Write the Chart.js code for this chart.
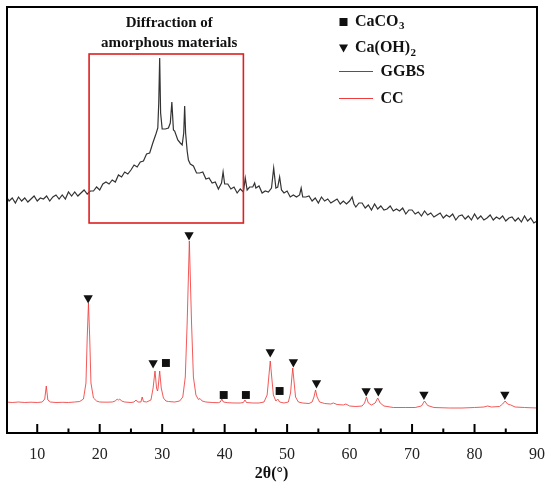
<!DOCTYPE html>
<html>
<head>
<meta charset="utf-8">
<script src="https://cdn.jsdelivr.net/npm/chart.js@4.4.1/dist/chart.umd.min.js"></script>
<style>
  html, body { margin: 0; padding: 0; background: #fff; }
  canvas { display: block; }
</style>
</head>
<body>
<canvas id="xrd-chart" width="550" height="486"></canvas>
<script>
// 2θ (deg) and intensity (a.u.)
const ggbs = [
  [5.0,237],[5.5,232],[6.0,235],[6.5,230],[7.0,236],[7.5,232],[8.0,235],[8.5,231],[9.0,234],[9.5,237],
  [10.0,232],[10.5,235],[11.0,234],[11.5,237],[12.0,232],[12.5,236],[13.0,238],[13.5,234],[14.0,238],[14.5,234],
  [15.0,241],[15.5,237],[16.0,241],[16.5,237],[17.0,240],[17.5,243],[18.0,239],[18.5,242],[19.0,242],[19.5,246],
  [20.0,243],[20.5,249],[21.0,251],[21.5,249],[22.0,253],[22.5,251],[23.0,258],[23.5,256],[24.0,261],[24.5,259],
  [25.0,263],[25.5,268],[26.0,266],[26.5,271],[27.0,272],[27.5,279],[28.0,280],[28.5,290],[29.0,299],[29.3,305],
  [29.45,330],[29.6,375],[29.75,320],[30.0,304],[30.5,304],[31.0,305],[31.3,310],[31.55,331],[31.8,303],[32.0,302],
  [32.5,293],[32.9,290],[33.2,288],[33.45,300],[33.6,327],[33.75,300],[34.0,282],[34.2,273],[34.5,269],[35.0,267],
  [35.5,260],[36.0,260],[36.5,261],[37.0,254],[37.5,255],[38.0,250],[38.5,251],[39.0,244],[39.5,250],[39.75,261],
  [40.0,249],[40.5,249],[41.0,244],[41.5,246],[42.0,240],[42.5,244],[43.0,241],[43.3,255],[43.6,243],[44.0,246],
  [44.5,246],[44.8,250],[45.0,245],[45.5,247],[46.0,240],[46.5,242],[47.0,241],[47.5,245],[47.85,265],[48.2,245],
  [48.5,246],[48.8,256],[49.1,243],[49.5,240],[50.0,242],[50.5,236],[51.0,238],[51.5,236],[52.0,238],[52.25,245],
  [52.5,236],[53.0,236],[53.5,237],[54.0,232],[54.5,235],[55.0,230],[55.5,236],[56.0,232],[56.5,234],[57.0,230],
  [57.5,232],[58.0,234],[58.5,229],[59.0,232],[59.5,229],[60.0,232],[60.4,236],[60.7,229],[61.0,226],[61.5,230],
  [62.0,230],[62.5,225],[63.0,228],[63.5,223],[64.0,229],[64.5,224],[65.0,227],[65.5,223],[66.0,224],[66.5,227],
  [67.0,222],[67.5,224],[68.0,222],[68.5,225],[69.0,219],[69.5,223],[70.0,223],[70.5,219],[71.0,221],[71.5,217],
  [72.0,222],[72.5,218],[73.0,220],[73.5,216],[74.0,218],[74.5,220],[75.0,215],[75.5,218],[76.0,216],[76.5,219],
  [77.0,213],[77.5,217],[78.0,218],[78.5,214],[79.0,217],[79.5,213],[80.0,219],[80.5,214],[81.0,217],[81.5,213],
  [82.0,215],[82.5,218],[83.0,213],[83.5,216],[84.0,214],[84.5,217],[85.0,212],[85.5,215],[86.0,216],[86.5,212],
  [87.0,215],[87.5,211],[88.0,217],[88.5,212],[89.0,215],[89.5,210],[90.0,212]
];

const cc = [
  [5,31],[6,30.5],[7,31],[8,30.5],[9,30.8],[10,30.5],[10.8,31],[11.2,34],[11.45,47],[11.7,33],
  [12.1,31],[13,30.5],[14,30.7],[15,30.5],[16,31],[16.8,31.5],[17.4,34],[17.8,50],[18.0,95],[18.2,130],
  [18.4,95],[18.6,50],[19.0,35],[19.5,32],[20,31],[21,30.8],[22,31],[22.5,32],[22.8,34],[23.0,33],
  [23.2,34],[23.5,32],[24,31],[25,30.5],[25.5,31],[25.8,33],[26.1,31],[26.6,31],[26.8,36],[27.0,31.5],
  [27.5,31],[28.2,33],[28.55,45],[28.85,62],[29.1,45],[29.25,42],[29.35,45],[29.6,62],[29.85,45],[30.2,35],
  [30.6,32],[31,31.5],[32,31],[32.8,32],[33.3,36],[33.7,56],[34.0,110],[34.35,192],[34.7,110],[35.0,56],
  [35.4,38],[35.8,33.5],[36.05,34.5],[36.4,32],[37,31],[38,30.5],[39,30.3],[39.3,31],[39.55,34],[39.8,31],
  [40.5,30.3],[41.5,30],[42.5,30],[43.0,30.5],[43.25,33],[43.5,30.5],[44.5,30],[45.5,30],[46.3,31],[46.8,38],
  [47.05,55],[47.3,72],[47.55,55],[47.8,38],[48.2,32],[48.5,34],[48.8,31],[49.5,30],[50.2,31],[50.55,40],
  [50.75,55],[50.9,65],[51.1,52],[51.35,36],[51.8,31],[52.5,30],[53.5,29.5],[54.0,31],[54.3,36],[54.55,43],
  [54.8,36],[55.2,31],[56,29.5],[57,29],[57.4,30],[58,28.5],[59,28],[59.4,29],[60,27],[61,26.5],
  [62,27],[62.4,30],[62.7,36],[63.0,30],[63.5,28],[64.1,30],[64.5,35],[64.9,30],[65.5,27],[67,25.5],
  [69,25.5],[70.5,25.5],[71.5,27],[72.0,32],[72.5,27.5],[73.5,25.5],[76,25],[78,25],[80,25.5],[81.5,26],
  [82.1,27],[82.7,26],[84,26.5],[84.5,29],[84.9,32],[85.3,29],[85.8,28],[86.5,26],[88,25.5],[90,25]
];

// phase markers
const caco3Angles = [30.6, 39.85, 43.4, 48.8];
const caco3Marks  = [70, 38, 38, 42];
const caoh2Angles = [18.15, 28.55, 34.3, 47.3, 51.0, 54.7, 62.65, 64.6, 71.9, 84.85];
const caoh2Marks  = [135, 70, 198, 81, 71, 50, 42, 42, 38.5, 38.5];

const xTicks = [10, 20, 30, 40, 50, 60, 70, 80, 90];
const minorTicks = [15, 25, 35, 45, 55, 65, 75, 85];

// amorphous hump frame (2θ from/to, intensity top/bottom)
const humpBox = { from: 18.3, to: 43.0, top: 379, bottom: 210 };

const serif = '"Liberation Serif", "Times New Roman", serif';
const ink = '#111';

const toPts = arr => arr.map(p => ({ x: p[0], y: p[1] }));
const zipPts = (xs, ys) => xs.map((x, i) => ({ x: x, y: ys[i] }));

function drawSub(ctx, text, sub, x, y) {
  ctx.font = 'bold 16px ' + serif;
  ctx.fillText(text, x, y);
  const w = ctx.measureText(text).width;
  ctx.font = 'bold 11px ' + serif;
  ctx.fillText(sub, x + w + 0.5, y + 5);
}

const decorations = {
  id: 'decorations',
  afterDraw(chart) {
    const ctx = chart.ctx;
    const area = chart.chartArea;
    const xs = chart.scales.x;
    const ys = chart.scales.y;
    ctx.save();

    // frame
    ctx.strokeStyle = '#000';
    ctx.lineWidth = 2;
    ctx.strokeRect(area.left + 1, area.top + 1, area.right - area.left - 1, area.bottom - area.top - 1);

    // inward ticks
    xTicks.forEach(v => {
      const px = xs.getPixelForValue(v);
      ctx.beginPath(); ctx.moveTo(px, area.bottom); ctx.lineTo(px, area.bottom - 9); ctx.stroke();
    });
    minorTicks.forEach(v => {
      const px = xs.getPixelForValue(v);
      ctx.beginPath(); ctx.moveTo(px, area.bottom); ctx.lineTo(px, area.bottom - 4.5); ctx.stroke();
    });

    // red box around amorphous hump
    const bx0 = xs.getPixelForValue(humpBox.from);
    const bx1 = xs.getPixelForValue(humpBox.to);
    const by0 = ys.getPixelForValue(humpBox.top);
    const by1 = ys.getPixelForValue(humpBox.bottom);
    ctx.strokeStyle = '#dd2020';
    ctx.lineWidth = 1.6;
    ctx.strokeRect(bx0, by0, bx1 - bx0, by1 - by0);

    ctx.fillStyle = ink;
    ctx.font = 'bold 15px ' + serif;
    ctx.textAlign = 'center';
    ctx.textBaseline = 'middle';
    const cx = (bx0 + bx1) / 2 + 3;
    ctx.fillText('Diffraction of', cx, area.top + 17.5);
    ctx.fillText('amorphous materials', cx, area.top + 37);

    // legend
    const lx = area.left + 337;
    const ly = area.top;
    ctx.textAlign = 'left';
    ctx.fillStyle = ink;
    ctx.fillRect(lx - 3.5, ly + 12, 8, 8);
    ctx.beginPath();
    ctx.moveTo(lx - 4, ly + 38.5); ctx.lineTo(lx + 5, ly + 38.5); ctx.lineTo(lx + 0.5, ly + 46.5);
    ctx.closePath(); ctx.fill();
    drawSub(ctx, 'CaCO', '3', lx + 12, ly + 15.5);
    drawSub(ctx, 'Ca(OH)', '2', lx + 12, ly + 42);

    ctx.lineWidth = 1;
    ctx.strokeStyle = '#555';
    ctx.beginPath(); ctx.moveTo(lx - 4, ly + 65.5); ctx.lineTo(lx + 30, ly + 65.5); ctx.stroke();
    ctx.strokeStyle = '#f03c3c';
    ctx.beginPath(); ctx.moveTo(lx - 4, ly + 92.5); ctx.lineTo(lx + 30, ly + 92.5); ctx.stroke();
    ctx.font = 'bold 16px ' + serif;
    ctx.fillText('GGBS', lx + 37.5, ly + 66);
    ctx.fillText('CC', lx + 37.5, ly + 92.5);

    ctx.restore();
  }
};

new Chart(document.getElementById('xrd-chart'), {
  type: 'scatter',
  data: {
    datasets: [
      {
        label: 'CaCO3',
        data: zipPts(caco3Angles, caco3Marks),
        pointStyle: 'rect',
        pointRadius: 5.6,
        backgroundColor: ink,
        borderWidth: 0,
        order: 0
      },
      {
        label: 'Ca(OH)2',
        data: zipPts(caoh2Angles, caoh2Marks),
        pointStyle: 'triangle',
        rotation: 180,
        pointRadius: 5.4,
        backgroundColor: ink,
        borderWidth: 0,
        order: 0
      },
      {
        label: 'GGBS',
        data: toPts(ggbs),
        showLine: true,
        borderColor: '#333',
        borderWidth: 1.2,
        pointRadius: 0,
        order: 1
      },
      {
        label: 'CC',
        data: toPts(cc),
        showLine: true,
        borderColor: 'rgba(240,60,60,0.85)',
        borderWidth: 1,
        pointRadius: 0,
        order: 1
      }
    ]
  },
  options: {
    responsive: false,
    animation: false,
    layout: {
      padding: { left: 6, right: 13, top: 6, bottom: 3 }
    },
    plugins: {
      legend: { display: false },
      tooltip: { enabled: false }
    },
    scales: {
      x: {
        type: 'linear',
        min: 5,
        max: 90,
        afterBuildTicks: scale => {
          scale.ticks = xTicks.map(v => ({ value: v }));
        },
        afterFit: scale => {
          scale.height = 50;
          scale.paddingLeft = 0;
          scale.paddingRight = 0;
        },
        grid: { display: false, drawTicks: false },
        border: { display: false },
        ticks: {
          padding: 12,
          color: '#222',
          font: { family: serif, size: 16 }
        },
        title: {
          display: true,
          text: '2θ(°)',
          color: ink,
          padding: { top: 2, bottom: 0 },
          font: { family: serif, size: 16, weight: 'bold' }
        }
      },
      y: {
        display: false,
        min: 0,
        max: 427
      }
    }
  },
  plugins: [decorations]
});
</script>
</body>
</html>
